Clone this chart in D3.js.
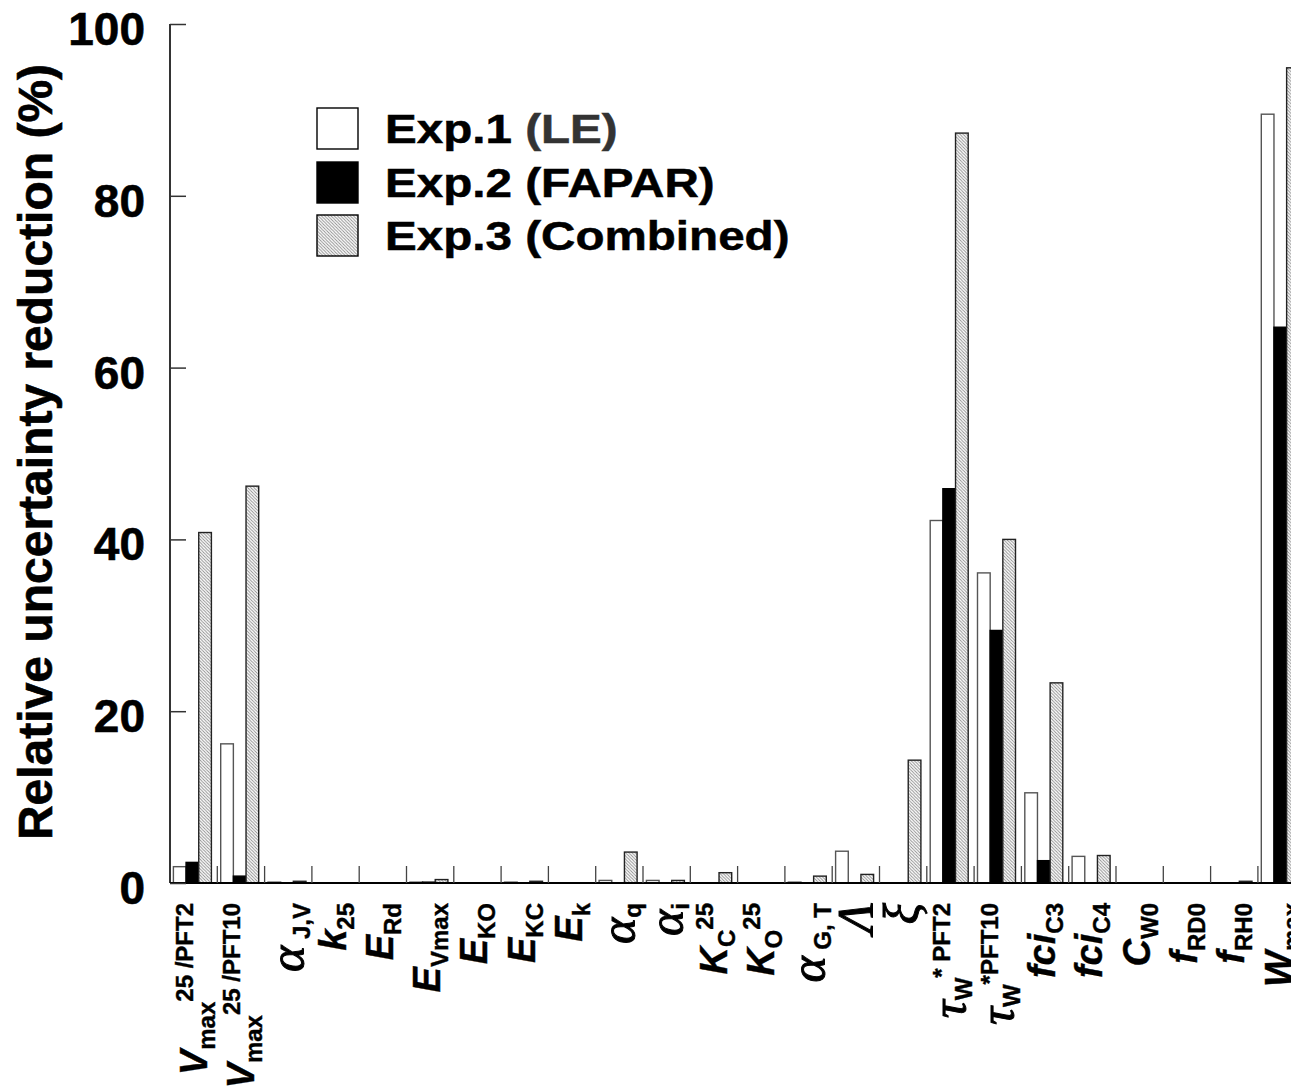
<!DOCTYPE html>
<html>
<head>
<meta charset="utf-8">
<script src="https://cdn.jsdelivr.net/npm/d3@7"></script>
<style>
  html, body { margin: 0; padding: 0; background: #fff; }
  svg { display: block; }
  text { font-family: "Liberation Sans", Arial, Helvetica, sans-serif; font-weight: bold; }
</style>
</head>
<body>
<svg id="chart" width="1291" height="1087"></svg>
<script>
// ---------------- data ----------------
const categories = ["Vmax25/PFT2","Vmax25/PFT10","αJ,V","k25","ERd","EVmax","EKO","EKC","Ek","αq","αi","KC25","KO25","αG,T","Λ","ξ","τW*PFT2","τW*PFT10","fciC3","fciC4","CW0","fRD0","fRH0","Wmax"];

// rich label segments: m = italic bold main, g = greek italic, sub / sup
const categoryLabels = [
  [["m","V"],["sub","max"],["sup","25 /PFT2"]],
  [["m","V"],["sub","max"],["sup","25 /PFT10"]],
  [["g","α"],["gsub"," J,V"]],
  [["m","k"],["sub","25"]],
  [["m","E"],["sub","Rd"]],
  [["m","E"],["sub","Vmax"]],
  [["m","E"],["sub","KO"]],
  [["m","E"],["sub","KC"]],
  [["m","E"],["sub","k"]],
  [["g","α"],["gsub","q"]],
  [["g","α"],["gsub","i"]],
  [["m","K"],["sub","C"],["sup","25"]],
  [["m","K"],["sub","O"],["sup","25"]],
  [["g","α"],["gsub"," G, T"]],
  [["g","Λ"]],
  [["g","ξ"]],
  [["g","τ"],["gsub","W"],["gsup","* PFT2"]],
  [["g","τ"],["gsub","W"],["gsup","*PFT10"]],
  [["m","fci"],["sub","C3"]],
  [["m","fci"],["sub","C4"]],
  [["m","C"],["sub","W0"]],
  [["m","f"],["sub","RD0"]],
  [["m","f"],["sub","RH0"]],
  [["m","W"],["sub","max"]]
];

const seriesNames = ["Exp.1", "Exp.2", "Exp.3"];
const seriesLabels = [["Exp.1 ", "(LE)"], ["Exp.2 ", "(FAPAR)"], ["Exp.3 ", "(Combined)"]];
const exp1 = [1.9, 16.2, 0.1, 0, 0, 0.1, 0, 0.1, 0, 0.3, 0.3, 0, 0, 0.1, 3.7, 0, 42.2, 36.1, 10.5, 3.1, 0, 0, 0, 89.5];
const exp2 = [2.4, 0.8, 0, 0, 0, 0.1, 0, 0, 0, 0, 0, 0, 0, 0, 0, 0, 45.9, 29.4, 2.6, 0, 0, 0, 0, 64.7];
const exp3 = [40.8, 46.2, 0.2, 0, 0, 0.4, 0, 0.2, 0, 3.6, 0.3, 1.2, 0, 0.8, 1.0, 14.3, 87.3, 40.0, 23.3, 3.2, 0, 0, 0.2, 94.9];
const yTicks = [0, 20, 40, 60, 80, 100];
const yTitle = "Relative uncertainty reduction (%)";

// ---------------- layout ----------------
const svg = d3.select("#chart");
const x0 = 170, yBase = 883, yTop = 24, groupW = 47.3;

const x = d3.scaleBand().domain(categories)
  .range([x0, x0 + groupW * categories.length]).paddingInner(0).paddingOuter(0);
const xs = d3.scaleBand().domain(seriesNames).range([3.4, 41.4]).padding(0);
const y = d3.scaleLinear().domain([0, 100]).range([yBase, yTop]);

// hatch pattern
const defs = svg.append("defs");
const pat = defs.append("pattern").attr("id", "hatch")
  .attr("patternUnits", "userSpaceOnUse").attr("width", 3.2).attr("height", 3.2);
pat.append("rect").attr("width", 3.2).attr("height", 3.2).attr("fill", "#fff");
pat.append("path").attr("d", "M-0.8,-0.8 L4,4 M-0.8,2.4 L0.8,4 M2.4,-0.8 L4,0.8")
  .attr("stroke", "#8a8a8a").attr("stroke-width", 0.9);

const fills = ["#fff", "#000", "url(#hatch)"];
const strokes = ["#555", "#000", "#222"];
const series = [exp1, exp2, exp3];

// bars
const barRows = [];
categories.forEach((c, i) => {
  series.forEach((s, k) => barRows.push({ cat: c, ser: seriesNames[k], k, v: s[i] }));
});
svg.append("g").selectAll("rect").data(barRows).join("rect")
  .attr("x", d => x(d.cat) + xs(d.ser))
  .attr("width", xs.bandwidth())
  .attr("y", d => y(d.v))
  .attr("height", d => y(0) - y(d.v))
  .attr("fill", d => fills[d.k])
  .attr("stroke", d => strokes[d.k])
  .attr("stroke-width", 1.4);

// x axis: line with separator ticks between groups
const xAxis = d3.axisBottom(x).tickSize(0).tickFormat("");
const gx = svg.append("g").attr("transform", `translate(0,${yBase})`).call(xAxis);
gx.select(".domain").attr("stroke", "#000").attr("stroke-width", 2)
  .attr("d", `M${x0},0H1300`);
svg.append("g").selectAll("line").data(categories.slice(1)).join("line")
  .attr("x1", d => x(d)).attr("x2", d => x(d))
  .attr("y1", yBase - 17).attr("y2", yBase)
  .attr("stroke", "#444").attr("stroke-width", 1.3);

// y axis
const yAxis = d3.axisRight(y).tickValues(yTicks).tickSize(16).tickFormat("");
const gy = svg.append("g").attr("transform", `translate(${x0},0)`).call(yAxis);
gy.select(".domain").attr("stroke", "#000").attr("stroke-width", 1.6)
  .attr("d", `M0,${yTop}V${yBase}`);
gy.selectAll(".tick line").attr("stroke", "#333").attr("stroke-width", 1.5);
svg.append("g").selectAll("text").data(yTicks).join("text")
  .attr("x", 145).attr("y", d => y(d) + 21)
  .attr("text-anchor", "end")
  .attr("font-size", 46).attr("fill", "#000")
  .attr("stroke", "#000").attr("stroke-width", 0.6)
  .text(d => d);

// y title
svg.append("text")
  .attr("transform", "translate(52,452) rotate(-90)")
  .attr("text-anchor", "middle")
  .attr("font-size", 48).attr("fill", "#000")
  .attr("stroke", "#000").attr("stroke-width", 0.6)
  .text(yTitle);

// category labels
const segStyle = {
  m:    { size: 38, shift: 0,  italic: true,  serif: false },
  g:    { size: 50, shift: 0,  italic: true,  serif: true },
  sub:  { size: 24, shift: 8,  italic: false, serif: false },
  sup:  { size: 24, shift: -14, italic: false, serif: false },
  gsub: { size: 24, shift: 6,  italic: false, serif: false },
  gsup: { size: 24, shift: -16, italic: false, serif: false }
};
categoryLabels.forEach((segs, i) => {
  const first = segs[0][0];
  const hasSup = segs.some(s => s[0] === "sup" || s[0] === "gsup");
  let off = 10;
  if (first === "g") off = 16;
  else if (hasSup) off = 13;
  const cx = x(categories[i]) + x.bandwidth() / 2 + off;
  const t = svg.append("text")
    .attr("transform", `translate(${cx},903) rotate(-90)`)
    .attr("text-anchor", "end").attr("fill", "#000");
  let cur = 0;
  segs.forEach(([type, str]) => {
    const st = segStyle[type];
    t.append("tspan")
      .attr("dy", st.shift - cur)
      .attr("font-size", st.size)
      .attr("font-style", st.italic ? "italic" : "normal")
      .attr("font-weight", st.serif ? "normal" : "bold")
      .attr("font-family", st.serif ? "'Liberation Serif', 'DejaVu Serif', serif" : null)
      .attr("stroke", "#000")
      .attr("stroke-width", st.serif ? 1.0 : 0.4)
      .text(str);
    cur = st.shift;
  });
});

// legend
const lg = svg.append("g");
const legY = [108, 162, 215];
seriesNames.forEach((n, k) => {
  lg.append("rect").attr("x", 317).attr("y", legY[k]).attr("width", 41).attr("height", 41)
    .attr("fill", fills[k]).attr("stroke", "#000").attr("stroke-width", 1.4);
  const t = lg.append("text")
    .attr("transform", `translate(385,${legY[k] + 35}) scale(1.19,1)`)
    .attr("font-size", 40).attr("fill", "#000")
    .attr("stroke", "#000").attr("stroke-width", 0.5);
  t.append("tspan").text(seriesLabels[k][0]);
  t.append("tspan").attr("fill", k === 0 ? "#333" : "#000")
    .attr("stroke", k === 0 ? "#333" : "#000").text(seriesLabels[k][1]);
});
</script>
</body>
</html>
